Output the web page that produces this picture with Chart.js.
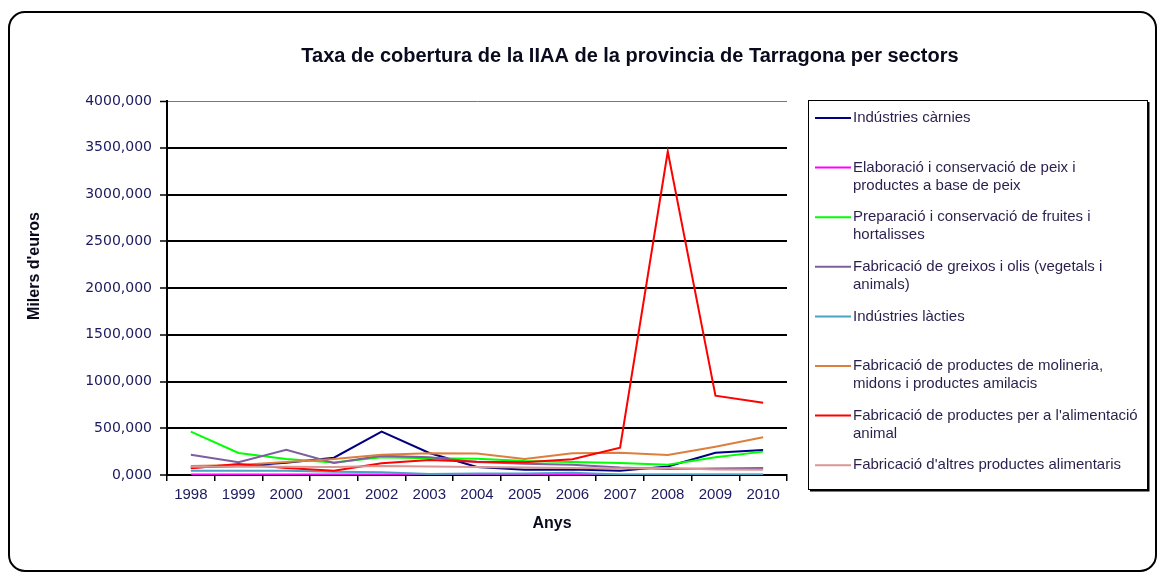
<!DOCTYPE html>
<html>
<head>
<meta charset="utf-8">
<script src="https://cdn.jsdelivr.net/npm/chart.js@4/dist/chart.umd.min.js"></script>
<style>
  body { margin: 0; background: #fff; }
  #wrap { width: 1159px; height: 574px; position: relative; }
</style>
</head>
<body>
<div id="wrap"><canvas id="grafico" width="1159" height="574"></canvas></div>
<script>
// Anys i sèries (milers d'euros)
const anys = ['1998', '1999', '2000', '2001', '2002', '2003', '2004', '2005', '2006', '2007', '2008', '2009', '2010'];

const carnies   = [80, 95, 130, 185, 463, 235, 85, 55, 60, 45, 90, 238, 267];
const peix      = [5, 5, 5, 5, 5, 5, 5, 5, 5, 3, 3, 3, 3];
const fruites   = [463, 235, 170, 135, 190, 180, 175, 150, 140, 128, 110, 190, 250];
const greixos   = [217, 136, 270, 128, 206, 190, 140, 120, 110, 80, 65, 70, 75];
const lacties   = [45, 45, 45, 35, 30, 10, 15, 15, 25, 5, 5, 5, 5];
const molineria = [96, 107, 140, 170, 217, 232, 230, 171, 232, 238, 214, 303, 403];
const animal    = [71, 118, 75, 46, 125, 160, 142, 136, 168, 292, 3460, 848, 773];
const altres    = [89, 88, 88, 85, 96, 90, 85, 80, 75, 70, 75, 60, 55];

// Noms dels sectors, ja partits en línies per a la llegenda
const etiquetes = [
  ['Indústries càrnies'],
  ['Elaboració i conservació de peix i', 'productes a base de peix'],
  ['Preparació i conservació de fruites i', 'hortalisses'],
  ['Fabricació de greixos i olis (vegetals i', 'animals)'],
  ['Indústries làcties'],
  ['Fabricació de productes de molineria,', 'midons i productes amilacis'],
  ["Fabricació de productes per a l'alimentació", 'animal'],
  ["Fabricació d'altres productes alimentaris"]
];
const series = [carnies, peix, fruites, greixos, lacties, molineria, animal, altres];
const colors = ['#000080', '#ff00ff', '#00ff00', '#7b5f9e', '#4aa3c4', '#dd7f3c', '#ff0000', '#d99694'];

const titol = 'Taxa de cobertura de la IIAA de la provincia de Tarragona per sectors';

const datasets = series.map((d, i) => ({
  label: etiquetes[i].join(' '),
  linies: etiquetes[i],
  data: d,
  borderColor: colors[i],
  backgroundColor: colors[i],
  borderWidth: 2,
  pointRadius: 0,
  tension: 0,
  fill: false,
  order: series.length - i // les últimes sèries queden a sobre
}));

function formatNum(v) {
  return v.toFixed(3).replace('.', ',');
}

// Marc, títols i llegenda
const decoracio = {
  id: 'decoracio',
  beforeDraw(chart) {
    const ctx = chart.ctx;
    ctx.save();
    ctx.fillStyle = '#fff';
    ctx.fillRect(0, 0, chart.width, chart.height);
    ctx.strokeStyle = '#000';
    ctx.lineWidth = 2;
    ctx.beginPath();
    ctx.roundRect(9, 12, 1147, 559, 16);
    ctx.stroke();
    ctx.restore();
  },
  afterDraw(chart) {
    const ctx = chart.ctx;
    const area = chart.chartArea;
    ctx.save();

    // títol
    ctx.fillStyle = '#0a0a1e';
    ctx.font = 'bold 20px "Liberation Sans", Arial, sans-serif';
    ctx.textAlign = 'center';
    ctx.textBaseline = 'middle';
    ctx.fillText(titol, 630, 56);

    // títols dels eixos
    ctx.font = 'bold 16px "Liberation Sans", Arial, sans-serif';
    ctx.fillText('Anys', 552, 524);
    ctx.save();
    ctx.translate(35, 266);
    ctx.rotate(-Math.PI / 2);
    ctx.font = 'bold 16px "Liberation Sans", Arial, sans-serif';
    ctx.fillText("Milers d'euros", 0, 0);
    ctx.restore();

    // llegenda
    const lx = area.right + 21, ly = area.top - 1, lw = 339, lh = 389;
    ctx.strokeStyle = '#000';
    ctx.lineWidth = 1;
    ctx.strokeRect(lx + 0.5, ly + 0.5, lw, lh);
    ctx.lineWidth = 2;
    ctx.beginPath();
    ctx.moveTo(lx + lw + 1.5, ly + 2);
    ctx.lineTo(lx + lw + 1.5, ly + lh + 1.5);
    ctx.lineTo(lx + 2, ly + lh + 1.5);
    ctx.stroke();

    ctx.font = '15px "Liberation Sans", Arial, sans-serif';
    ctx.textAlign = 'left';
    ctx.textBaseline = 'middle';
    chart.data.datasets.forEach((ds, i) => {
      const y = ly + 18 + i * 49.6;
      ctx.strokeStyle = ds.borderColor;
      ctx.lineWidth = 2;
      ctx.beginPath();
      ctx.moveTo(lx + 7, y);
      ctx.lineTo(lx + 43, y);
      ctx.stroke();
      ctx.fillStyle = '#2a1f4c';
      ds.linies.forEach((t, k) => ctx.fillText(t, lx + 45, y + k * 18));
    });
    ctx.restore();
  }
};

new Chart(document.getElementById('grafico'), {
  type: 'line',
  data: { labels: anys, datasets: datasets },
  options: {
    responsive: false,
    animation: false,
    layout: { padding: { top: 101, right: 372, left: 0, bottom: 0 } },
    plugins: {
      legend: { display: false },
      title: { display: false },
      tooltip: { enabled: false }
    },
    scales: {
      x: {
        offset: true,
        afterFit: s => { s.height = 99; },
        grid: {
          offset: true,
          drawOnChartArea: false,
          drawTicks: true,
          tickLength: 6,
          color: '#000',
          lineWidth: 1.5
        },
        border: { color: '#000', width: 2 },
        ticks: {
          color: '#1a1a60',
          padding: 5,
          maxRotation: 0,
          font: { family: '"Liberation Sans", Arial, sans-serif', size: 15 }
        }
      },
      y: {
        min: 0,
        max: 4000,
        afterFit: s => { s.width = 167; },
        grid: {
          color: ctx => ctx.tick && ctx.tick.value === 4000 ? '#777' : '#000',
          lineWidth: ctx => ctx.tick && ctx.tick.value === 4000 ? 1 : 2,
          drawTicks: true,
          tickLength: 7,
          tickColor: '#000',
          tickWidth: 1.5
        },
        border: { color: '#000', width: 2 },
        ticks: {
          stepSize: 500,
          color: '#1a1a60',
          padding: 8,
          font: { family: '"DejaVu Sans", Verdana, sans-serif', size: 14 },
          callback: v => formatNum(v)
        }
      }
    }
  },
  plugins: [decoracio]
});
</script>
</body>
</html>
